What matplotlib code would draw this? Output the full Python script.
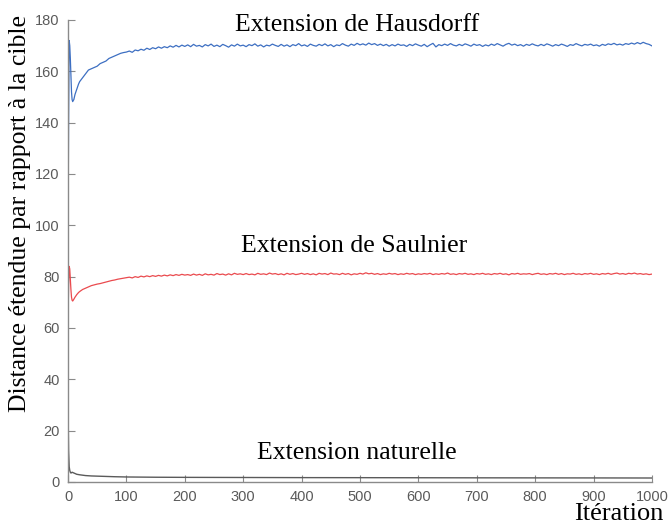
import numpy as np
import matplotlib
matplotlib.use('Agg')
import matplotlib.pyplot as plt

# ---- data ----
early_it = [0, 1, 2, 3, 4, 5, 6, 7, 8, 10, 12, 15, 18, 20, 25, 30, 35, 40, 45, 50,
            55, 60, 65, 70, 75, 80, 85, 90, 95, 100]
tail_it = list(range(105, 1001, 5))

haus_early = [95, 140, 172, 170, 165, 158, 152, 149, 148.2, 149, 151, 153, 155, 156,
              157.5, 159, 160.5, 161, 161.5, 162, 163, 163.5, 164, 165, 165.5, 166,
              166.5, 167, 167.3, 167.5]
haus_tail = [
    167.9, 167.4, 168.3, 168.0, 168.6, 168.2, 169.0, 168.5, 169.2, 168.8, 169.5, 169.0, 169.6, 169.2, 169.9, 169.4, 170.1, 169.5, 170.2, 169.7,
    170.3, 169.6, 170.5, 169.8, 170.1, 169.5, 170.4, 169.9, 170.6, 169.7, 170.2, 169.6, 170.5, 170.0, 169.4, 170.3, 169.8, 170.6, 169.9, 170.2,
    169.6, 170.4, 170.0, 170.7, 169.8, 170.3, 169.5, 170.2, 169.9, 170.6, 170.1, 169.7, 170.5, 169.8, 170.3, 169.6, 170.4, 170.0, 170.8, 169.9,
    170.3, 169.7, 170.6, 170.1, 169.8, 170.5, 170.0, 170.7, 169.9, 170.4, 169.6, 170.3, 170.0, 170.8, 170.2, 169.8, 170.6, 170.1, 170.9, 170.3,
    170.7, 170.2, 171.0, 170.4, 170.8, 170.1, 170.6, 170.0, 170.5, 169.8, 170.4, 169.9, 170.6, 170.1, 170.3, 169.7, 170.5, 170.0, 170.7, 170.2,
    169.8, 170.5, 169.6, 170.3, 170.9, 169.5, 170.4, 170.0, 170.6, 170.1, 170.8, 170.2, 169.9, 170.5, 170.0, 170.7, 170.3, 169.8, 170.6, 170.1,
    170.4, 169.7, 170.3, 169.9, 170.6, 170.1, 170.8, 170.3, 169.8, 170.5, 170.9, 170.2, 170.6, 170.0, 170.4, 169.8, 170.5, 170.1, 170.7, 170.2,
    169.9, 170.5, 170.0, 170.7, 170.3, 169.8, 170.4, 170.0, 170.6, 170.2, 169.7, 170.4, 170.1, 170.8, 170.3, 169.9, 170.5, 170.2, 170.6, 170.0,
    170.3, 169.8, 170.5, 170.1, 170.7, 170.4, 170.9, 170.3, 170.6, 170.2, 170.8, 170.5, 171.0, 170.6, 171.2, 170.7, 171.3, 170.8, 170.5, 169.9]

saul_early = [63, 76, 84, 83, 79, 75, 72, 70.8, 70.5, 71.2, 72.0, 73, 73.8, 74.2, 75,
              75.5, 76, 76.5, 76.8, 77.1, 77.3, 77.6, 77.9, 78.2, 78.5, 78.7, 79, 79.2,
              79.4, 79.6]
saul_tail = [
    79.8, 79.5, 80.0, 79.7, 80.2, 79.9, 80.3, 80.0, 80.4, 80.1, 80.5, 80.2, 80.6, 80.3, 80.7, 80.4, 80.8, 80.5, 80.9, 80.6,
    80.8, 80.5, 81.0, 80.6, 80.9, 80.5, 81.1, 80.7, 80.9, 80.6, 81.2, 80.8, 81.0, 80.6, 81.1, 80.7, 81.3, 80.9, 81.1, 80.8,
    81.2, 80.8, 81.0, 80.7, 81.3, 80.9, 81.1, 80.8, 81.4, 81.0, 81.2, 80.8, 81.1, 80.7, 81.3, 80.9, 81.2, 80.8, 81.0, 81.3,
    80.9, 81.2, 80.8, 81.1, 80.7, 81.3, 81.0, 81.2, 80.8, 81.4, 81.0, 81.1, 80.8, 81.3, 80.9, 81.2, 80.7, 81.1, 80.9, 81.3,
    81.0, 81.5, 81.1, 81.3, 80.9, 81.2, 80.8, 81.1, 80.9, 81.3, 81.0, 81.2, 80.8, 81.1, 80.9, 81.3, 81.0, 81.2, 80.8, 81.1,
    80.9, 81.2, 81.0, 81.3, 80.8, 81.1, 80.9, 81.2, 81.0, 81.4, 80.9, 81.1, 80.8, 81.2, 81.0, 81.3, 80.9, 81.1, 80.8, 81.2,
    81.0, 81.3, 80.9, 81.1, 80.8, 81.2, 81.0, 81.3, 80.9, 81.1, 80.7, 81.2, 81.0, 81.3, 80.9, 81.1, 81.0, 81.2, 80.8, 81.1,
    81.3, 80.9, 81.1, 80.8, 81.2, 81.0, 81.3, 80.9, 81.2, 80.8, 81.1, 81.0, 81.3, 80.9, 81.1, 80.8, 81.2, 81.0, 81.3, 80.9,
    81.1, 80.8, 81.2, 81.0, 81.3, 80.9, 81.2, 81.4, 81.0, 81.2, 80.9, 81.3, 81.1, 81.4, 81.0, 81.2, 80.9, 81.1, 80.8, 81.0]

nat_it = [0, 1, 2, 3, 4, 5, 6, 7, 8, 10, 12, 15, 20, 30, 40, 60, 80, 100, 150, 200,
          300, 400, 500, 600, 700, 800, 900, 1000]
nat_val = [30, 12, 6, 4.5, 3.8, 3.5, 3.6, 3.8, 3.7, 3.5, 3.3, 3.0, 2.8, 2.5, 2.35, 2.2,
           2.05, 1.95, 1.85, 1.8, 1.75, 1.7, 1.68, 1.65, 1.62, 1.6, 1.58, 1.55]

x_ticks = list(range(0, 1001, 100))
y_ticks = list(range(0, 181, 20))

# ---- figure ----
fig = plt.figure(figsize=(6.68, 5.3), dpi=100)
ax = fig.add_axes([0.1018, 0.0906, 0.8742, 0.8717])

ax.plot(early_it + tail_it, haus_early + haus_tail, color='#3d6fc2', lw=0.9)
ax.plot(early_it + tail_it, saul_early + saul_tail, color='#ea4a4e', lw=0.9)
ax.plot(nat_it, nat_val, color='#5a5a5a', lw=1.0)

ax.set_xlim(0, 1000)
ax.set_ylim(0, 180)
ax.set_xticks(x_ticks)
ax.set_yticks(y_ticks)

grey = '#8a8a8a'
for s in ['top', 'right']:
    ax.spines[s].set_visible(False)
for s in ['left', 'bottom']:
    ax.spines[s].set_color(grey)
    ax.spines[s].set_linewidth(1.0)
ax.tick_params(direction='in', length=5, color=grey, labelcolor='#5a5a5a',
               labelsize=10.5, pad=6)
for lab in ax.get_xticklabels() + ax.get_yticklabels():
    lab.set_family('Liberation Sans')

serif = 'Liberation Serif'
ax.text(495, 178, 'Extension de Hausdorff', ha='center', va='center',
        family=serif, fontsize=18.5)
ax.text(490, 92, 'Extension de Saulnier', ha='center', va='center',
        family=serif, fontsize=18.5)
ax.text(495, 11.3, 'Extension naturelle', ha='center', va='center',
        family=serif, fontsize=18.5)

fig.text(20 / 668, 1 - 213 / 530, 'Distance étendue par rapport à la cible',
         rotation=90, ha='center', va='center', family=serif, fontsize=18.5)
fig.text(619 / 668, 1 - 514 / 530, 'Itération', ha='center', va='center',
         family=serif, fontsize=19)

fig.savefig('out.png', dpi=100)
